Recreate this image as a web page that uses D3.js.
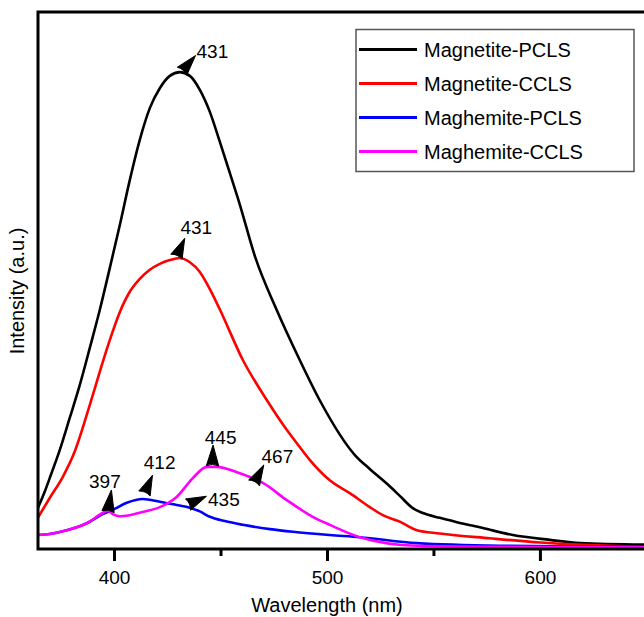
<!DOCTYPE html>
<html>
<head>
<meta charset="utf-8">
<script src="https://cdn.jsdelivr.net/npm/d3@7"></script>
<style>
  body { margin: 0; background: #fff; }
  svg { display: block; font-family: "Liberation Sans", Arial, Helvetica, sans-serif; }
</style>
</head>
<body>
<svg id="chart" width="644" height="617"></svg>
<script>
// wavelength (nm) / intensity (a.u.)
var seriesNames = ['Magnetite-PCLS', 'Magnetite-CCLS', 'Maghemite-PCLS', 'Maghemite-CCLS'];
var seriesColors = ['#000000', '#ff0000', '#0000ff', '#ff00ff'];

var magnetitePCLS = [
  [364.2, 7.6], [367.4, 10.6], [369.8, 13.2], [374.5, 18.4], [379.2, 24.4], [383.9, 30.5],
  [388.6, 37.4], [393.3, 44.5], [398.0, 52.3], [402.7, 60.3], [407.4, 68.7], [412.1, 76.2],
  [416.8, 82.1], [421.5, 85.8], [426.2, 88.1], [430.9, 88.8], [435.6, 88.1], [440.3, 85.5],
  [445.0, 81.4], [449.7, 75.8], [454.4, 70.0], [459.1, 64.1], [466.1, 54.6], [476.4, 44.5],
  [487.2, 35.2], [496.6, 27.7], [513.1, 17.5], [520.1, 14.9], [528.6, 12.0], [534.2, 9.9],
  [540.3, 7.6], [545.0, 6.7], [553.0, 5.8], [561.0, 5.0], [573.2, 3.9], [587.3, 2.6],
  [604.7, 1.7], [618.8, 1.1], [650.0, 0.8]
];
var magnetiteCCLS = [
  [364.2, 5.8], [369.8, 9.5], [375.9, 13.4], [381.5, 18.1], [388.6, 26.8], [393.3, 33.0],
  [398.0, 38.9], [402.7, 44.1], [407.4, 47.9], [412.1, 50.3], [416.8, 52.0], [421.5, 53.1],
  [426.2, 53.8], [430.9, 54.2], [435.6, 53.4], [440.3, 51.6], [445.0, 48.4], [449.7, 44.6],
  [460.5, 35.2], [471.8, 27.7], [481.1, 22.2], [487.2, 19.0], [491.9, 16.6], [501.3, 12.8],
  [510.7, 10.4], [520.1, 7.8], [526.2, 6.3], [534.2, 5.1], [542.2, 3.5], [552.9, 2.9],
  [576.4, 2.0], [600.0, 1.2], [650.0, 0.4]
];
var maghemitePCLS = [
  [364.2, 2.6], [369.8, 2.8], [377.8, 3.5], [387.2, 4.8], [394.7, 6.5], [399.4, 7.3],
  [406.0, 8.6], [413.5, 9.3], [421.5, 8.8], [429.4, 8.2], [435.6, 7.7], [440.3, 7.0],
  [445.0, 6.0], [452.0, 5.2], [460.5, 4.5], [473.2, 3.7], [484.0, 3.2], [501.3, 2.6],
  [515.4, 2.2], [542.2, 1.1], [581.2, 0.6], [650.0, 0.4]
];
var maghemiteCCLS = [
  [364.2, 2.6], [369.8, 2.8], [377.8, 3.5], [387.2, 4.8], [394.7, 6.7], [397.0, 7.1],
  [399.4, 6.5], [402.7, 6.1], [407.4, 6.3], [413.5, 6.9], [421.5, 7.8], [429.4, 9.7],
  [437.0, 13.2], [443.6, 15.3], [448.3, 15.3], [457.7, 14.3], [463.8, 13.4], [469.9, 12.3],
  [481.1, 9.1], [493.3, 6.0], [501.3, 4.5], [515.4, 2.2], [542.2, 0.6], [581.2, 0.4],
  [650.0, 0.3]
];
var allSeries = [magnetitePCLS, magnetiteCCLS, maghemitePCLS, maghemiteCCLS];

// peak labels: wavelength and the series it points at
var peakLabels = ['431', '431', '397', '412', '445', '467', '435'];
var peakWavelengths = [431, 431, 397, 412, 445, 467, 435];
var peakSeries = [0, 1, 3, 2, 3, 3, 2];

var xTicks = [400, 500, 600];
var xMinorTicks = [450, 550, 650];

var svg = d3.select('#chart');
var margin = { top: 12, left: 38, bottom: 549 };
var plotRight = 646.4;

var x = d3.scaleLinear().domain([364.3, 650]).range([margin.left, plotRight]);
var y = d3.scaleLinear().domain([0, 100]).range([margin.bottom, margin.top]);

svg.append('defs').append('clipPath').attr('id', 'plotclip')
  .append('rect')
  .attr('x', margin.left).attr('y', margin.top)
  .attr('width', plotRight - margin.left).attr('height', margin.bottom - margin.top);

// curves
var line = d3.line()
  .x(d => x(d[0]))
  .y(d => y(d[1]))
  .curve(d3.curveMonotoneX);

var plot = svg.append('g').attr('clip-path', 'url(#plotclip)');
allSeries.forEach(function(data, i) {
  plot.append('path')
    .datum(data)
    .attr('fill', 'none')
    .attr('stroke', seriesColors[i])
    .attr('stroke-width', 2.6)
    .attr('stroke-linejoin', 'round')
    .attr('d', line);
});

// x axis with major and minor ticks
svg.append('g')
  .attr('transform', `translate(0,${margin.bottom})`)
  .call(d3.axisBottom(x).tickValues(xMinorTicks).tickSize(7).tickFormat(''))
  .call(g => g.select('.domain').remove())
  .call(g => g.selectAll('line').attr('stroke-width', 3));

svg.append('g')
  .attr('transform', `translate(0,${margin.bottom})`)
  .call(d3.axisBottom(x).tickValues(xTicks).tickSize(12).tickPadding(10).tickFormat(d3.format('d')))
  .call(g => g.select('.domain').remove())
  .call(g => g.selectAll('line').attr('stroke-width', 3))
  .call(g => g.selectAll('text').attr('font-size', 19).attr('fill', '#000')
    .attr('font-family', '"Liberation Sans", Arial, Helvetica, sans-serif'));

// frame (right side falls outside the picture)
svg.append('rect')
  .attr('x', margin.left).attr('y', margin.top)
  .attr('width', plotRight - margin.left).attr('height', margin.bottom - margin.top)
  .attr('fill', 'none').attr('stroke', '#000').attr('stroke-width', 3);

// axis titles
svg.append('text')
  .attr('x', 327).attr('y', 612)
  .attr('text-anchor', 'middle').attr('font-size', 20)
  .text('Wavelength (nm)');

svg.append('text')
  .attr('transform', 'translate(24,291) rotate(-90)')
  .attr('text-anchor', 'middle').attr('font-size', 20)
  .text('Intensity (a.u.)');

// peak arrows: base offset from curve, tip vector, label offset from tip
var arrowLayout = [
  { bx: 2, by: -1, tx: 13.5, ty: -15.7, lx: 1, ly: 2 },
  { bx: -3.6, by: -1.3, tx: 8.3, ty: -18.4, lx: -4.3, ly: -4.3 },
  { bx: 0.4, by: 0.8, tx: 3.4, ty: -21.7, lx: -22.4, ly: -2 },
  { bx: 4.9, by: -6.3, tx: 8, ty: -18.3, lx: -8.7, ly: -6 },
  { bx: 2.7, by: -1, tx: 0.5, ty: -20.8, lx: -8.3, ly: -1 },
  { bx: -2.6, by: 2.8, tx: 9.7, ty: -18, lx: -2.3, ly: -2 },
  { bx: -0.5, by: -2.8, tx: 18.4, ty: -8.3, lx: 1.6, ly: 10 }
];

function valueAt(data, wl) {
  var i = d3.bisector(d => d[0]).left(data, wl);
  if (i <= 0) return data[0][1];
  if (i >= data.length) return data[data.length - 1][1];
  var a = data[i - 1], b = data[i];
  return a[1] + (b[1] - a[1]) * (wl - a[0]) / (b[0] - a[0]);
}

var ann = svg.append('g');
peakLabels.forEach(function(lbl, i) {
  var L = arrowLayout[i];
  var cx = x(peakWavelengths[i]);
  var cy = y(valueAt(allSeries[peakSeries[i]], peakWavelengths[i]));
  var bx = cx + L.bx, by = cy + L.by;
  var tipX = bx + L.tx, tipY = by + L.ty;
  var len = Math.sqrt(L.tx * L.tx + L.ty * L.ty);
  var ux = L.tx / len, uy = L.ty / len;
  var px = -uy * 6.2, py = ux * 6.2;
  // slightly rounded, fat arrowhead
  ann.append('path')
    .attr('d', `M${tipX},${tipY}L${bx + px},${by + py}` +
               `Q${bx + ux * 3},${by + uy * 3} ${bx - px},${by - py}Z`)
    .attr('fill', '#000')
    .attr('stroke', '#000').attr('stroke-width', 1).attr('stroke-linejoin', 'round');
  ann.append('text')
    .attr('x', tipX + L.lx).attr('y', tipY + L.ly)
    .attr('font-size', 19)
    .text(lbl);
});

// legend
var legend = svg.append('g');
legend.append('rect')
  .attr('x', 356).attr('y', 29.5).attr('width', 278).attr('height', 142)
  .attr('fill', '#fff').attr('stroke', '#555').attr('stroke-width', 1.5);

seriesNames.forEach(function(name, i) {
  var ly = 49.5 + i * 34;
  legend.append('line')
    .attr('x1', 359).attr('x2', 417).attr('y1', ly).attr('y2', ly)
    .attr('stroke', seriesColors[i]).attr('stroke-width', 3);
  legend.append('text')
    .attr('x', 424).attr('y', ly + 7.5)
    .attr('font-size', 20)
    .text(name);
});
</script>
</body>
</html>
